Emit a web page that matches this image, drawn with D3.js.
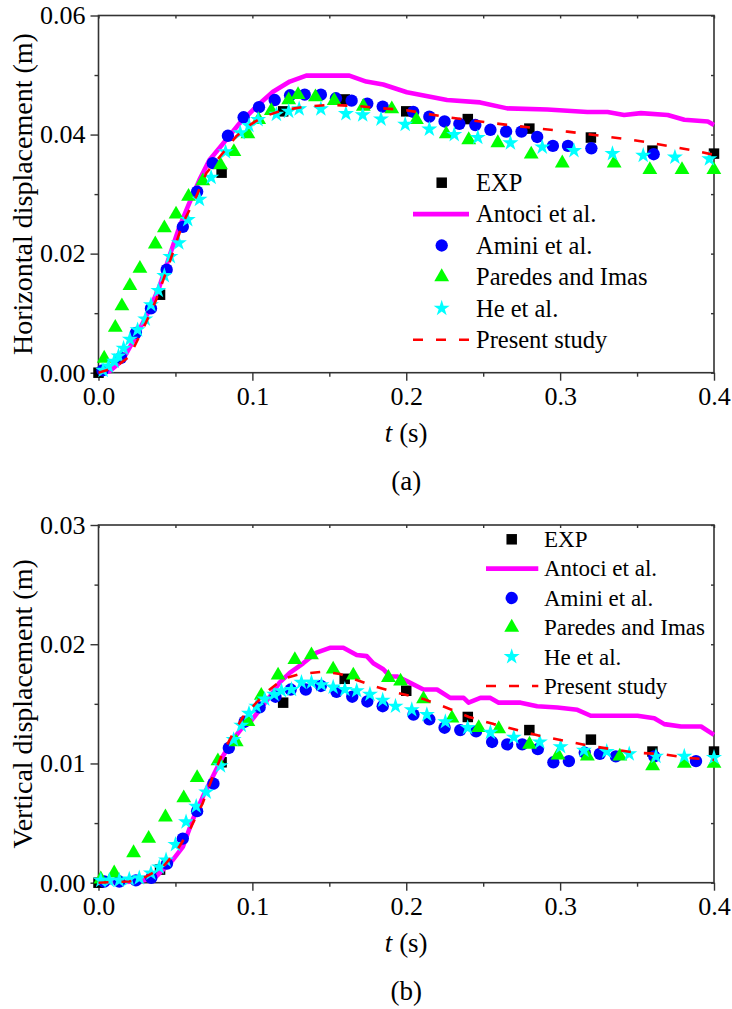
<!DOCTYPE html>
<html>
<head>
<meta charset="utf-8">
<script src="https://cdn.jsdelivr.net/npm/d3@7"></script>
<style>
  html, body { margin: 0; padding: 0; background: #fff; }
  svg { display: block; }
</style>
</head>
<body>
<svg id="chart" width="732" height="1009"></svg>
<script>
// ---------- data ----------
const seriesNames = ["EXP", "Antoci et al.", "Amini et al.", "Paredes and Imas", "He et al.", "Present study"];
const tTicks = [0.0, 0.1, 0.2, 0.3, 0.4];
const tMinor = [0.05, 0.15, 0.25, 0.35];
const hTicks = [0.00, 0.02, 0.04, 0.06];
const hMinor = [0.01, 0.03, 0.05];
const vTicks = [0.00, 0.01, 0.02, 0.03];
const vMinor = [0.005, 0.015, 0.025];

// (a) horizontal displacement
const hExp = [[0,0],[0.04,0.0131],[0.08,0.0336],[0.12,0.0439],[0.16,0.0459],[0.2,0.0439],[0.24,0.0426],[0.28,0.041],[0.32,0.0395],[0.36,0.0373],[0.4,0.0368]];
const hAntoci = [[0,0],[0.007,0.0002],[0.0156,0.0021],[0.0243,0.0061],[0.033,0.0105],[0.0395,0.0144],[0.046,0.0195],[0.0526,0.0245],[0.059,0.0285],[0.0656,0.0324],[0.072,0.0357],[0.081,0.0385],[0.0917,0.0419],[0.1026,0.0447],[0.1134,0.0472],[0.1243,0.0489],[0.135,0.0499],[0.163,0.0499],[0.174,0.0489],[0.185,0.0484],[0.2004,0.0471],[0.2265,0.0458],[0.248,0.0454],[0.2656,0.0444],[0.2917,0.0442],[0.3177,0.0438],[0.3308,0.0438],[0.3416,0.0433],[0.3525,0.0436],[0.3699,0.0433],[0.3807,0.0425],[0.396,0.0422],[0.4,0.0416]];
const hAmini = [[0.0026,0.0004],[0.0146,0.0025],[0.0243,0.0067],[0.0341,0.0108],[0.0443,0.0173],[0.0548,0.0245],[0.0641,0.0304],[0.0743,0.0352],[0.0841,0.0398],[0.0943,0.0429],[0.1043,0.0446],[0.1145,0.0458],[0.1245,0.0466],[0.134,0.0467],[0.1445,0.0467],[0.1543,0.0461],[0.1645,0.0457],[0.1747,0.0452],[0.1847,0.0447],[0.2045,0.0438],[0.215,0.043],[0.2249,0.0422],[0.2345,0.0418],[0.2449,0.0416],[0.2547,0.0408],[0.2649,0.0405],[0.2749,0.0405],[0.2851,0.0396],[0.2953,0.0381],[0.3051,0.0381],[0.3203,0.0377],[0.3608,0.0367]];
const hParedes = [[0.0037,0.0024],[0.0109,0.0076],[0.0152,0.0112],[0.0204,0.0146],[0.0269,0.0175],[0.0369,0.0216],[0.0428,0.0243],[0.0504,0.0266],[0.0585,0.0296],[0.0678,0.0322],[0.0793,0.0349],[0.088,0.0371],[0.0971,0.0401],[0.1041,0.0425],[0.1123,0.044],[0.1236,0.0458],[0.1297,0.0467],[0.141,0.0463],[0.1532,0.0457],[0.1721,0.0447],[0.1906,0.0443],[0.2066,0.0425],[0.226,0.0401],[0.2406,0.0391],[0.2595,0.0386],[0.2812,0.0367],[0.3014,0.0352],[0.3351,0.0352],[0.3583,0.0341],[0.3792,0.0341],[0.3999,0.0341]];
const hHe = [[0.003,0.0004],[0.0065,0.0011],[0.0102,0.0019],[0.013,0.0028],[0.0163,0.0041],[0.0204,0.0056],[0.0254,0.0072],[0.0304,0.009],[0.0341,0.0114],[0.0389,0.0138],[0.0428,0.0163],[0.0467,0.0195],[0.0522,0.0218],[0.058,0.0257],[0.0656,0.0291],[0.0732,0.0328],[0.0826,0.0371],[0.0921,0.0403],[0.0978,0.0415],[0.1037,0.0425],[0.1156,0.0434],[0.1236,0.0439],[0.1304,0.0443],[0.1445,0.0443],[0.1608,0.0435],[0.1717,0.0433],[0.1836,0.0426],[0.1993,0.0417],[0.215,0.0409],[0.2312,0.04],[0.2465,0.0395],[0.2677,0.0386],[0.2884,0.0379],[0.309,0.0373],[0.334,0.0368],[0.354,0.0365],[0.3746,0.0362],[0.397,0.0359]];
const hPresent = [[0,0],[0.01,0.0008],[0.02,0.0027],[0.0287,0.0072],[0.0374,0.0122],[0.046,0.0184],[0.0548,0.0251],[0.0635,0.0296],[0.07,0.0335],[0.0808,0.0369],[0.0895,0.0397],[0.0982,0.0416],[0.107,0.043],[0.12,0.0441],[0.135,0.0447],[0.15,0.045],[0.168,0.0448],[0.185,0.0444],[0.2,0.0441],[0.2243,0.043],[0.2569,0.0419],[0.2829,0.0411],[0.3047,0.0405],[0.3264,0.0398],[0.3438,0.0392],[0.3568,0.0387],[0.3699,0.0381],[0.3851,0.0374],[0.4,0.0366]];

// (b) vertical displacement
const vExp = [[0,0],[0.04,0.0011],[0.08,0.0101],[0.12,0.0151],[0.16,0.0171],[0.2,0.0161],[0.24,0.0139],[0.28,0.0128],[0.32,0.012],[0.36,0.011],[0.4,0.011]];
const vAntoci = [[0,0],[0.0265,0.0001],[0.0374,0.0005],[0.0482,0.0019],[0.0548,0.003],[0.0613,0.0053],[0.0678,0.0072],[0.0743,0.0089],[0.0808,0.0106],[0.0874,0.012],[0.0939,0.0131],[0.0982,0.0134],[0.1047,0.0145],[0.1113,0.0156],[0.1178,0.0168],[0.1243,0.0176],[0.133,0.0184],[0.1417,0.0193],[0.1504,0.0197],[0.1591,0.0197],[0.1678,0.0191],[0.1743,0.019],[0.1786,0.0184],[0.1851,0.0179],[0.1895,0.0173],[0.1939,0.0173],[0.2004,0.0169],[0.2112,0.0162],[0.22,0.0162],[0.2286,0.0155],[0.2373,0.0155],[0.2405,0.0151],[0.2482,0.0155],[0.2547,0.0155],[0.2601,0.0151],[0.2743,0.0151],[0.2851,0.0148],[0.2982,0.0147],[0.3112,0.0145],[0.3199,0.014],[0.3351,0.014],[0.3503,0.014],[0.3612,0.0138],[0.3677,0.0133],[0.3786,0.0131],[0.3916,0.0131],[0.4,0.0124]];
const vAmini = [[0.0037,0.0001],[0.0135,0.0001],[0.0243,0.0002],[0.0343,0.0004],[0.0445,0.0016],[0.0548,0.0037],[0.0641,0.006],[0.0747,0.0083],[0.0847,0.0113],[0.095,0.0135],[0.1047,0.0147],[0.115,0.0156],[0.1249,0.0162],[0.1347,0.0162],[0.1445,0.0165],[0.1547,0.016],[0.1649,0.0156],[0.1747,0.0152],[0.1847,0.0148],[0.2047,0.0141],[0.215,0.0137],[0.2249,0.013],[0.2351,0.0128],[0.2454,0.0127],[0.2558,0.0118],[0.2656,0.0116],[0.2754,0.0116],[0.2855,0.0112],[0.2956,0.0101],[0.3057,0.0102],[0.316,0.0109],[0.3258,0.0108],[0.3362,0.0106],[0.3612,0.0106],[0.3883,0.0102]];
const vParedes = [[0.0015,0.0003],[0.0102,0.0008],[0.0228,0.0025],[0.0326,0.0037],[0.0435,0.0055],[0.0554,0.0071],[0.0641,0.0088],[0.0776,0.0102],[0.0895,0.0118],[0.0971,0.0135],[0.1058,0.0157],[0.1167,0.0174],[0.1276,0.0187],[0.1384,0.0191],[0.1525,0.0179],[0.1656,0.0174],[0.1884,0.0172],[0.1963,0.0169],[0.2112,0.0154],[0.2297,0.0138],[0.2471,0.013],[0.2601,0.0129],[0.2801,0.0116],[0.2986,0.0107],[0.3177,0.0106],[0.3388,0.0106],[0.3601,0.0098],[0.3807,0.01],[0.4,0.01]];
const vHe = [[0.0015,0.0002],[0.007,0.0002],[0.0135,0.0002],[0.02,0.0003],[0.0265,0.0004],[0.0341,0.0008],[0.0395,0.0013],[0.0439,0.0019],[0.05,0.0032],[0.0569,0.0051],[0.0635,0.0064],[0.07,0.0076],[0.0793,0.0098],[0.0878,0.012],[0.0928,0.0132],[0.0978,0.0142],[0.1026,0.0148],[0.108,0.0154],[0.1141,0.0158],[0.1189,0.0161],[0.1254,0.0162],[0.1319,0.0168],[0.1384,0.0168],[0.1449,0.0166],[0.1525,0.0164],[0.1601,0.0162],[0.1678,0.0161],[0.1764,0.0158],[0.1847,0.0153],[0.193,0.0148],[0.2036,0.0145],[0.2134,0.0141],[0.2254,0.0135],[0.2399,0.013],[0.2547,0.0126],[0.2699,0.0122],[0.2868,0.0118],[0.3003,0.0114],[0.3155,0.0111],[0.3303,0.011],[0.3449,0.0108],[0.3623,0.0106],[0.3807,0.0106],[0.4,0.0105]];
const vPresent = [[0,0],[0.02,0.0001],[0.0309,0.0005],[0.0417,0.0013],[0.0504,0.0026],[0.0591,0.0044],[0.0678,0.0067],[0.0743,0.0089],[0.0808,0.0109],[0.0874,0.0125],[0.0939,0.0139],[0.1026,0.0151],[0.1113,0.0162],[0.12,0.0171],[0.1308,0.0175],[0.146,0.0177],[0.1569,0.0175],[0.1678,0.017],[0.1786,0.0165],[0.1949,0.0159],[0.2112,0.0154],[0.2258,0.0147],[0.2408,0.0139],[0.2569,0.0133],[0.2721,0.0128],[0.2873,0.0123],[0.3029,0.0119],[0.3181,0.0115],[0.3334,0.0112],[0.3492,0.0109],[0.3655,0.0108],[0.3807,0.0105],[0.4,0.0103]];

// ---------- styles ----------
const FONT = "'Liberation Serif', 'Times New Roman', Times, serif";
const styles = [
  { kind: "marker", symbol: d3.symbolSquare, size: 110, fill: "#000000" },
  { kind: "line", stroke: "#ff00ff", width: 4.6, dash: null },
  { kind: "marker", symbol: d3.symbolCircle, size: 120, fill: "#0000ff" },
  { kind: "marker", symbol: d3.symbolTriangle, size: 95, fill: "#00ff00" },
  { kind: "marker", symbol: d3.symbolStar, size: 80, fill: "#00ffff" },
  { kind: "line", stroke: "#ff0000", width: 2.6, dash: "10,13" }
];

const svg = d3.select("#chart");
const X0 = 98.5, X1 = 714;

function txt(sel, size) {
  return sel.style("font-family", FONT).style("font-size", size + "px").style("fill", "#000");
}

function drawPanel(cfg) {
  const g = svg.append("g");
  const x = d3.scaleLinear().domain([0, 0.4]).range([X0, X1]);
  const y = d3.scaleLinear().domain([0, cfg.yMax]).range([cfg.bottom, cfg.top]);

  g.append("rect").attr("x", X0).attr("y", cfg.top).attr("width", X1 - X0).attr("height", cfg.bottom - cfg.top)
    .attr("fill", "none").attr("stroke", "#333").attr("stroke-width", 1.6);

  const fmtX = d3.format(".1f"), fmtY = d3.format(".2f");
  const bx = g.append("g").attr("transform", `translate(0,${cfg.bottom})`)
    .call(d3.axisBottom(x).tickValues(tTicks).tickSizeInner(8).tickSizeOuter(0).tickPadding(6).tickFormat(fmtX));
  const bxm = g.append("g").attr("transform", `translate(0,${cfg.bottom})`)
    .call(d3.axisBottom(x).tickValues(tMinor).tickSize(4).tickFormat(""));
  const ly = g.append("g").attr("transform", `translate(${X0},0)`)
    .call(d3.axisLeft(y).tickValues(cfg.ticks).tickSizeInner(8).tickSizeOuter(0).tickPadding(5).tickFormat(fmtY));
  const lym = g.append("g").attr("transform", `translate(${X0},0)`)
    .call(d3.axisLeft(y).tickValues(cfg.minor).tickSize(4).tickFormat(""));
  const tx = g.append("g").attr("transform", `translate(0,${cfg.top})`)
    .call(d3.axisBottom(x).tickValues(tTicks.concat(tMinor)).tickSize(3).tickFormat(""));
  const ry = g.append("g").attr("transform", `translate(${X1},0)`)
    .call(d3.axisLeft(y).tickValues(cfg.ticks.concat(cfg.minor)).tickSize(3).tickFormat(""));
  [bx, bxm, ly, lym, tx, ry].forEach(a => {
    a.select(".domain").remove();
    a.selectAll("line").attr("stroke", "#333").attr("stroke-width", 1.4);
  });
  txt(bx.selectAll("text"), 26);
  txt(ly.selectAll("text"), 26);

  const xt = txt(g.append("text").attr("x", (X0 + X1) / 2).attr("y", cfg.bottom + 69)
    .attr("text-anchor", "middle"), 27);
  xt.append("tspan").style("font-style", "italic").text("t");
  xt.append("tspan").text(" (s)");
  txt(g.append("text").attr("transform", `translate(32,${(cfg.top + cfg.bottom) / 2}) rotate(-90)`)
    .attr("text-anchor", "middle"), 28).text(cfg.yTitle);
  txt(g.append("text").attr("x", (X0 + X1) / 2).attr("y", cfg.bottom + 117)
    .attr("text-anchor", "middle"), 27).text(cfg.label);

  const line = d3.line().x(d => x(d[0])).y(d => y(d[1]));
  cfg.series.forEach((data, i) => {
    const s = styles[i];
    if (s.kind === "line") {
      g.append("path").datum(data).attr("d", line).attr("fill", "none")
        .attr("stroke", s.stroke).attr("stroke-width", s.width)
        .attr("stroke-dasharray", s.dash).attr("stroke-linejoin", "round");
    } else {
      g.append("g").selectAll("path").data(data).join("path")
        .attr("transform", d => `translate(${x(d[0])},${y(d[1])})`)
        .attr("d", d3.symbol().type(s.symbol).size(s.size))
        .attr("fill", s.fill);
    }
  });

  const L = cfg.legend;
  seriesNames.forEach((name, i) => {
    const s = styles[i];
    const cy = L.y0 + i * L.dy;
    if (s.kind === "line") {
      g.append("line").attr("x1", L.lx0).attr("x2", L.lx1).attr("y1", cy).attr("y2", cy)
        .attr("stroke", s.stroke).attr("stroke-width", s.width).attr("stroke-dasharray", s.dash);
    } else {
      g.append("path").attr("transform", `translate(${L.mx},${cy})`)
        .attr("d", d3.symbol().type(s.symbol).size(s.size)).attr("fill", s.fill);
    }
    txt(g.append("text").attr("x", L.tx).attr("y", cy + L.fs * 0.34), L.fs).text(name);
  });
}

drawPanel({
  top: 15.5, bottom: 372.7, yMax: 0.06, ticks: hTicks, minor: hMinor,
  yTitle: "Horizontal displacement (m)", label: "(a)",
  series: [hExp, hAntoci, hAmini, hParedes, hHe, hPresent],
  legend: { mx: 441.7, lx0: 413, lx1: 469, tx: 476, y0: 182.7, dy: 31.4, fs: 24.5 }
});
drawPanel({
  top: 525, bottom: 882.7, yMax: 0.03, ticks: vTicks, minor: vMinor,
  yTitle: "Vertical displacement (m)", label: "(b)",
  series: [vExp, vAntoci, vAmini, vParedes, vHe, vPresent],
  legend: { mx: 511.7, lx0: 486, lx1: 538.3, tx: 544, y0: 539.3, dy: 29.35, fs: 23 }
});
</script>
</body>
</html>
